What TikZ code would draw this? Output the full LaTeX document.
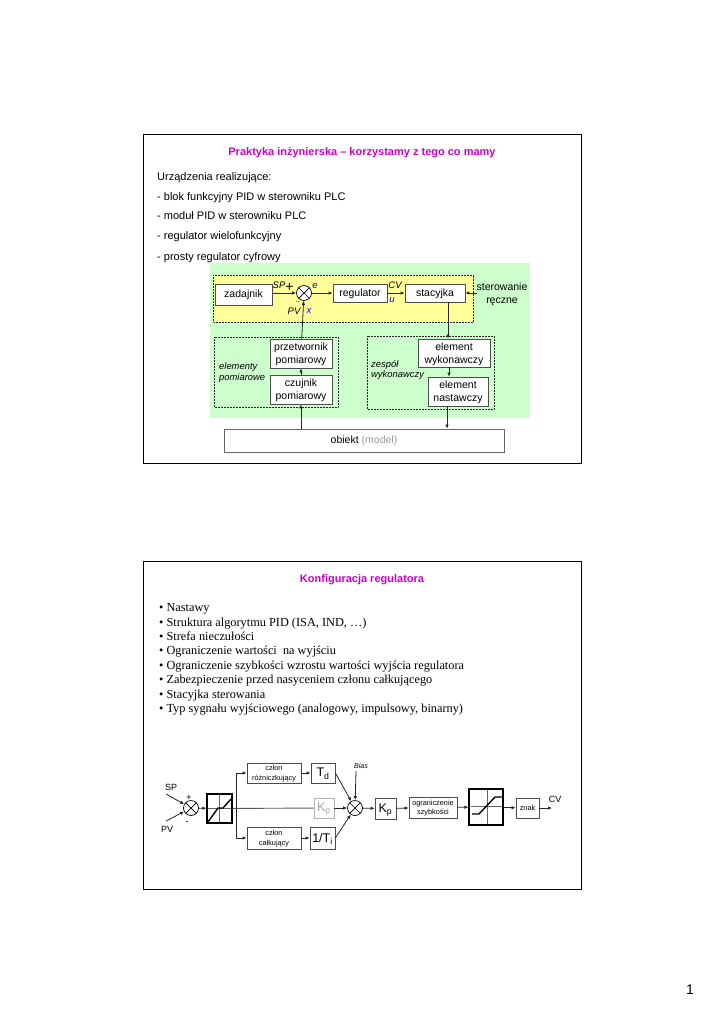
\documentclass[tikz,border=0pt]{standalone}
\usepackage{fontspec}
\setmainfont{Liberation Sans}
\newfontfamily\serifpl{Liberation Serif}
\usetikzlibrary{arrows.meta}
\definecolor{slidegreen}{RGB}{204,255,204}
\definecolor{slideyellow}{RGB}{255,255,153}
\definecolor{slidetitle}{RGB}{204,0,204}
\tikzset{
  slide/.style={draw=black, line width=0.9pt},
  blok/.style={draw=black!70, fill=white, line width=0.7pt, inner sep=0pt, align=center, text depth=-1.5pt, font=\fontsize{10.5}{13}\selectfont},
  blokmaly/.style={blok, text depth=-0.5pt, font=\fontsize{7.3}{9.5}\selectfont},
  blokK/.style={blok, text depth=1pt, font=\fontsize{12.5}{15}\selectfont},
  grupa/.style={draw=black!85, densely dotted, line width=0.5pt},
  suma/.style={draw=black, fill=white, circle, minimum size=15pt, inner sep=0pt, line width=0.7pt,
    path picture={\draw (path picture bounding box.north west) -- (path picture bounding box.south east)
      (path picture bounding box.north east) -- (path picture bounding box.south west);}},
  limiter/.style={draw=black, line width=1.2pt, inner sep=0pt},
  opis/.style={font=\fontsize{9.5}{11}\selectfont\itshape, inner sep=0pt},
  opisgr/.style={anchor=west, align=left, inner sep=0pt, font=\fontsize{9.4}{10.8}\selectfont\itshape},
  lista/.style={anchor=base west, inner sep=0pt, font=\fontsize{11}{13}\selectfont},
  listaserif/.style={anchor=base west, inner sep=0pt, font=\serifpl\fontsize{12.3}{14}\selectfont},
  tytul/.style={anchor=base, text=slidetitle, inner sep=0pt, font=\fontsize{11}{13}\selectfont\bfseries},
  con/.style={-{Latex[length=4pt,width=3.5pt]}, line width=0.8pt, draw=black!85},
}
\begin{document}
\begin{tikzpicture}[x=1pt, y=-1pt]
\useasboundingbox (0,0) rectangle (725,1024);
\fill[white] (0,0) rectangle (725,1024);
% slajd gorny
\draw[slide] (143,134) rectangle (581,463);
\node[tytul] (t1) at (362,156) {Praktyka inżynierska – korzystamy z tego co mamy};
\node[lista] (l1) at (157,181) {Urządzenia realizujące:};
\node[lista] (l2) at (157,201) {- blok funkcyjny PID w sterowniku PLC};
\node[lista] (l3) at (157,220) {- moduł PID w sterowniku PLC};
\node[lista] (l4) at (157,240) {- regulator wielofunkcyjny};
\node[lista] (l5) at (157,260) {- prosty regulator cyfrowy};
\fill[slidegreen] (210,263) rectangle (530,418);
\draw[grupa, fill=slideyellow] (213,275) rectangle (473,322);
\draw[grupa] (214,337) rectangle (338,407);
\draw[grupa] (367,336) rectangle (494,409);
\node[blok, text depth=1pt, minimum width=57pt, minimum height=21pt] (zadajnik) at (243.5,294.5) {zadajnik};
\node[suma] (sum) at (304,293) {};
\node[blok, minimum width=54pt, minimum height=18pt] (regulator) at (360,293) {regulator};
\node[blok, minimum width=60pt, minimum height=18pt] (stacyjka) at (435,293) {stacyjka};
\node[blok, minimum width=62pt, minimum height=29pt] (przetwornik) at (301,353.5) {przetwornik\\pomiarowy};
\node[blok, minimum width=62pt, minimum height=29pt] (czujnik) at (301,389.5) {czujnik\\pomiarowy};
\node[blok, minimum width=72pt, minimum height=28pt] (wykonawczy) at (454,353) {element\\wykonawczy};
\node[blok, minimum width=60pt, minimum height=29pt] (nastawczy) at (458,391.5) {element\\nastawczy};
\node[blok, text depth=2pt, draw=black!60, minimum width=280pt, minimum height=23pt] (obiekt) at (364,440.5) {obiekt \textcolor{black!40}{(model)}};
\node[inner sep=0pt, align=center, font=\fontsize{10.5}{13}\selectfont] (reczne) at (502,294) {sterowanie\\ręczne};
\node[opis] (sp) at (279,285) {SP};
\node[inner sep=0pt, font=\fontsize{14}{14}\selectfont] (plus) at (289.5,287) {+};
\node[opis, text=blue] (e) at (315,286) {e};
\node[opis] (cv) at (395,285) {CV};
\node[opis, text=blue] (u) at (392,300) {u};
\node[opis] (pv) at (294,311) {PV};
\node[opis, text=blue] (x) at (309,311) {x};
\node[inner sep=0pt, font=\fontsize{6}{6}\selectfont] (minus) at (298,303) {--};
\node[opisgr] (el) at (219,372.5) {elementy\\pomiarowe};
\node[opisgr] (ze) at (371,370) {zespół\\wykonawczy};
\coordinate (recznein) at (477,293);
\draw[con] (zadajnik.east |- sum) -- (sum);
\draw[con] (sum) -- (regulator);
\draw[con] (regulator) -- (stacyjka);
\draw[con] (recznein) -- (stacyjka);
\draw[con] (przetwornik) -- (sum);
\draw[con] (czujnik) -- (przetwornik);
\draw[con] (obiekt.north -| czujnik) -- (czujnik);
\draw[con] (stacyjka.south -| 448,0) -- (wykonawczy.north -| 448,0);
\draw[con] (wykonawczy.south -| 449,0) -- (nastawczy.north -| 449,0);
\draw[con] (nastawczy.south -| 447,0) -- (obiekt.north -| 447,0);
% slajd dolny
\draw[slide] (143,561) rectangle (581,889);
\node[tytul] (t2) at (362,582) {Konfiguracja regulatora};
\node[listaserif] (n1) at (159,611) {• Nastawy};
\node[listaserif] (n2) at (159,626) {• Struktura algorytmu PID (ISA, IND, …)};
\node[listaserif] (n3) at (159,640) {• Strefa nieczułości};
\node[listaserif] (n4) at (159,654) {• Ograniczenie wartości~ na wyjściu};
\node[listaserif] (n5) at (159,669) {• Ograniczenie szybkości wzrostu wartości wyjścia regulatora};
\node[listaserif] (n6) at (159,683) {• Zabezpieczenie przed nasyceniem członu całkującego};
\node[listaserif] (n7) at (159,698) {• Stacyjka sterowania};
\node[listaserif] (n8) at (159,712) {• Typ sygnału wyjściowego (analogowy, impulsowy, binarny)};
\node[suma] (sum1) at (191,808) {};
\node[suma] (sum2) at (355,808) {};
\node[limiter, minimum width=25pt, minimum height=29pt] (lim1) at (219.5,808.5) {};
\node[limiter, minimum width=34pt, minimum height=36pt] (lim2) at (486,807) {};
\node[blokmaly, minimum width=54pt, minimum height=20pt] (rozn) at (274,773) {człon\\różniczkujący};
\node[blokmaly, minimum width=54pt, minimum height=22pt] (calk) at (274,838) {człon\\całkujący};
\node[blokK, minimum width=24pt, minimum height=20pt] (td) at (323,773) {T\textsubscript{d}};
\node[blokK, draw=black!30, text=black!35, minimum width=20pt, minimum height=20pt] (kpszary) at (324,808) {K\textsubscript{p}};
\node[blokK, minimum width=25pt, minimum height=22pt] (ti) at (322.5,838) {1/T\textsubscript{i}};
\node[blokK, minimum width=21pt, minimum height=21pt] (kp) at (385.5,808.5) {K\textsubscript{p}};
\node[blokmaly, minimum width=48pt, minimum height=21pt] (ogr) at (433,807.5) {ograniczenie\\szybkości};
\node[blokmaly, minimum width=23pt, minimum height=20pt] (znak) at (527.5,808) {znak};
\node[inner sep=0pt, font=\fontsize{9}{11}\selectfont] (spin) at (171,787) {SP};
\node[inner sep=0pt, font=\fontsize{9}{11}\selectfont] (pvin) at (167,829) {PV};
\node[inner sep=0pt, font=\fontsize{9}{11}\selectfont] (cvout) at (555,799) {CV};
\node[inner sep=0pt, font=\fontsize{9}{11}\selectfont] (plus1) at (189,798) {+};
\node[inner sep=0pt, font=\fontsize{9}{11}\selectfont] (minus1) at (187,823) {-};
\node[inner sep=0pt, font=\fontsize{7}{9}\selectfont\itshape] (bias) at (361,766) {Bias};
\coordinate (spa) at (166,794);
\coordinate (pva) at (166,821);
\coordinate (biasa) at (356,771);
\coordinate (cvend) at (552,808);
\coordinate (bus) at (236,808);
\draw[con] (spa) -- (sum1);
\draw[con] (pva) -- (sum1);
\draw[con] (sum1) -- (lim1);
\draw[line width=0.9pt, draw=black!65] (lim1) -- (kpszary);
\draw[con, line width=1pt] (bus) -- (bus |- rozn) -- (rozn);
\draw[con, line width=1pt] (bus) -- (bus |- calk) -- (calk);
\draw[con] (rozn) -- (td);
\draw[con] (calk) -- (ti);
\draw[con] (td.east) -- (sum2);
\draw[con] (kpszary) -- (sum2);
\draw[con] (ti.east) -- (sum2);
\draw[con] (biasa) -- (sum2);
\draw[con] (sum2) -- (kp);
\draw[con] (kp) -- (ogr);
\draw[con] (ogr) -- (lim2);
\draw[con] (lim2) -- (znak);
\draw[con] (znak) -- (cvend);
% charakterystyki
\draw[black!60, line width=0.8pt] (219,795) -- (219,822) (208,808) -- (231,808);
\draw[black, line width=1.4pt] (208,822) -- (218,808) -- (223,808) -- (231,799);
\draw[black!60, line width=0.8pt] (487,790) -- (487,824) (471,806) -- (502,806);
\draw[black, line width=1.4pt] (472,814) -- (479,814) -- (495,797) -- (502,797);
\node[inner sep=0pt, font=\fontsize{14}{14}\selectfont] (strona) at (690,990) {1};
\end{tikzpicture}
\end{document}
